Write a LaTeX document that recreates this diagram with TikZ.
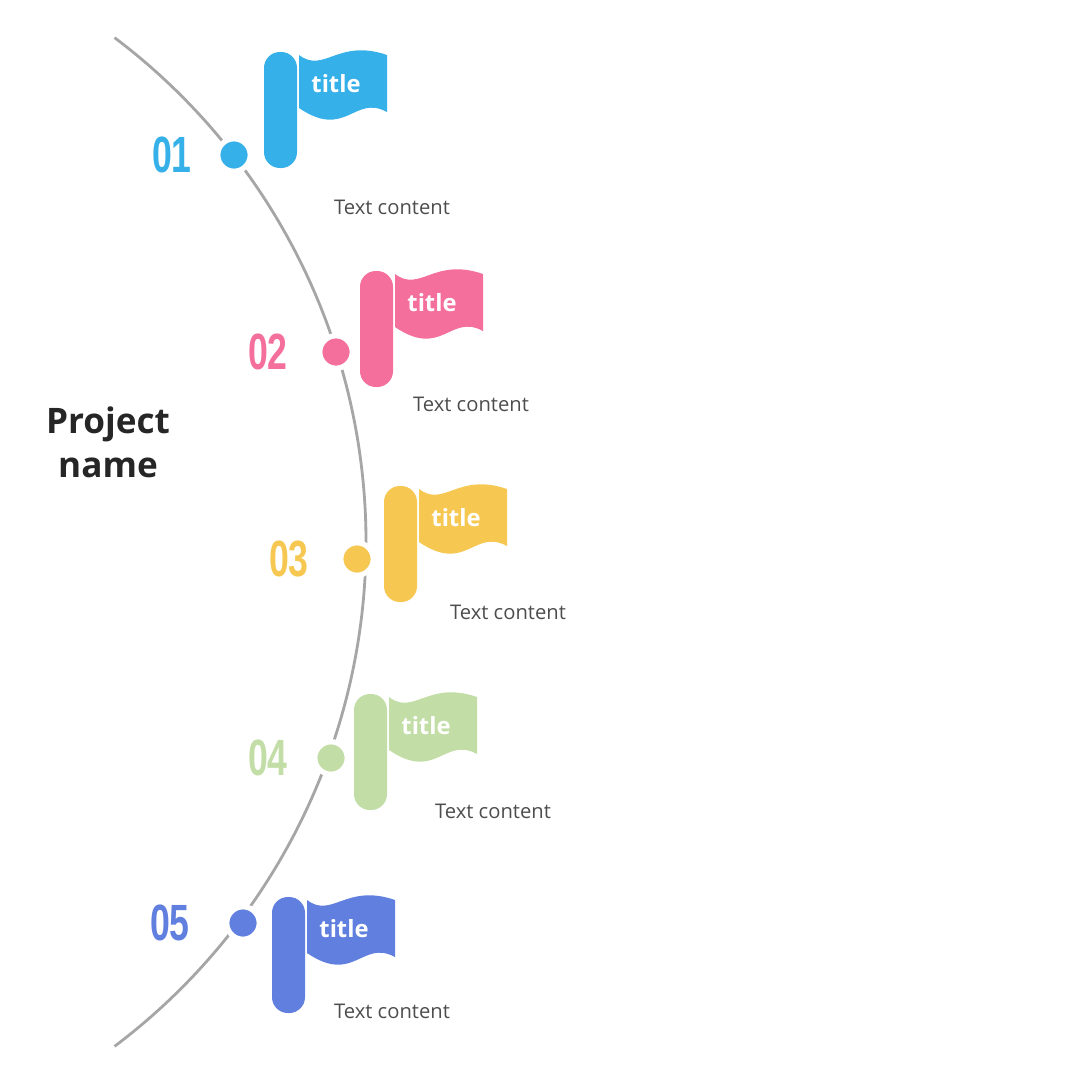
\documentclass[tikz,border=0pt]{standalone}
\usepackage{fontspec}
\setmainfont{Open Sans}
\newfontfamily\numfont{Liberation Sans}
\usetikzlibrary{positioning}
\definecolor{cA}{HTML}{36B0E8}
\definecolor{cB}{HTML}{F46F9C}
\definecolor{cC}{HTML}{F6C851}
\definecolor{cD}{HTML}{C3DDA6}
\definecolor{cE}{HTML}{607FDE}
\definecolor{txt}{HTML}{4D4D4D}

% flag: pole top-left x, y, colour, name
\newcommand{\flagat}[4]{%
  \fill[#3, rounded corners=9pt] (#1,#2) rectangle ++(33,116);
  \fill[#3] (#1+35,#2+3) .. controls (#1+60,#2+22) and (#1+74,#2-14) .. (#1+123,#2+3)
    -- (#1+123,#2+60) .. controls (#1+90,#2+42) and (#1+82,#2+88) .. (#1+35,#2+56) -- cycle;
  \node[flagtitle] (#4) at (#1+72,#2+32) {title};
}

\begin{document}
\begin{tikzpicture}[x=0.02cm,y=-0.02cm]

\tikzset{dot/.style={circle, inner sep=0pt, minimum size=18.5pt, draw=white, line width=3pt},
  num/.style={font=\numfont\bfseries\fontsize{29}{29}\selectfont},
  flagtitle/.style={text=white, font=\bfseries\fontsize{13.5}{13.5}\selectfont},
  content/.style={text=txt, font=\fontsize{11.5}{11.5}\selectfont}}

    \useasboundingbox (0,0) rectangle (1091,1086);

    % Time line
    \draw[black!35, line width=1.6pt] (-265.5,542) ++(53:631.5) coordinate (top)
      arc (53:-53:631.5) coordinate (bot);

    \node[font=\bfseries\fontsize{20}{25}\selectfont, text=black!85, align=center] (pname) at (108,442) {Project\\name};

    % Steps
    \foreach \px/\py/\dx/\dy/\nx/\tx/\ty/\col/\n in {
      264/52/234/155/172/392/207/cA/01,
      360/271/336/352/268/471/404/cB/02,
      384/486/357/559/289/508/612/cC/03,
      354/694/331/758/268/493/811/cD/04,
      272/897/243/923/170/392/1011/cE/05}{
      \flagat{\px}{\py}{\col}{t\n}
      \node[dot, fill=\col] (d\n) at (\dx,\dy) {};
      \node[num, text=\col] (n\n) at (\nx,\dy) {\scalebox{0.7}[1]{\n}};
      \node[content] (c\n) at (\tx,\ty) {Text content};
    }

\end{tikzpicture}
\end{document}
